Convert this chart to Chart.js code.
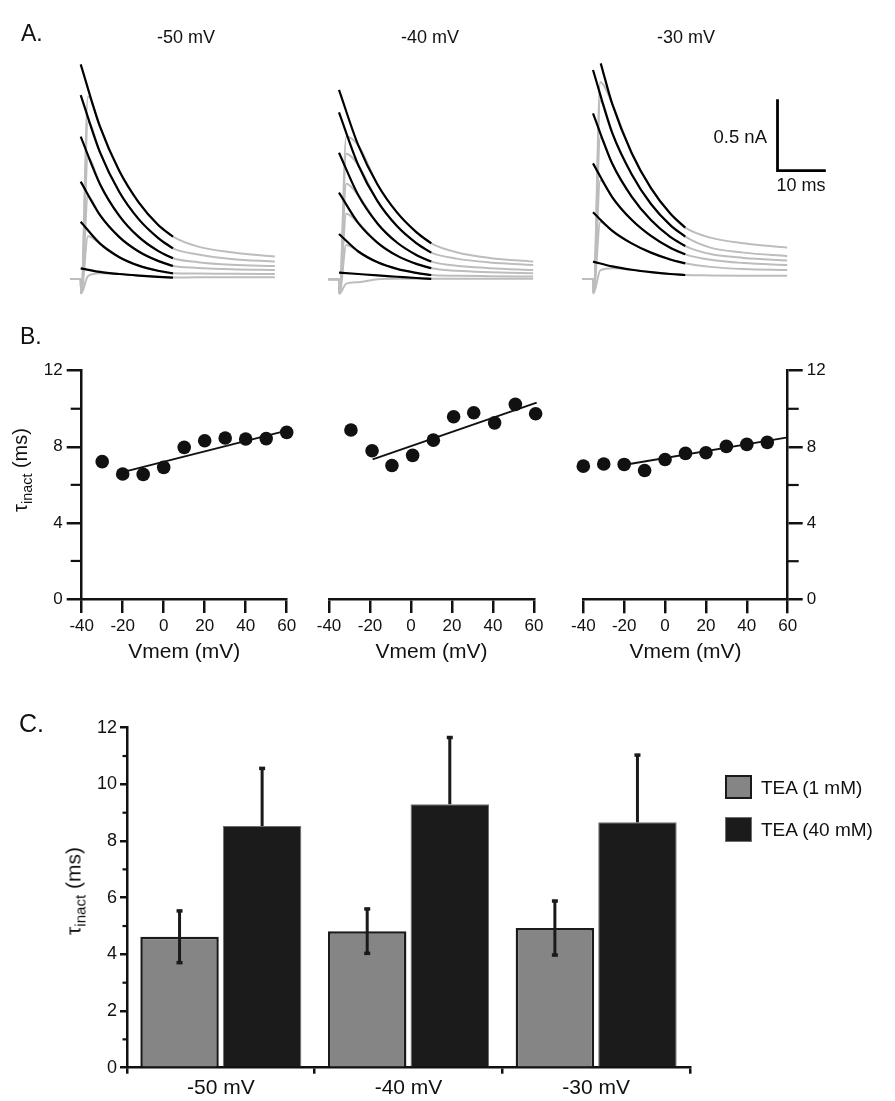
<!DOCTYPE html>
<html>
<head>
<meta charset="utf-8">
<title>TEA inactivation time constants</title>
<script src="https://cdn.jsdelivr.net/npm/chart.js@4.4.1/dist/chart.umd.min.js"></script>
<style>
  html, body { margin: 0; padding: 0; background: #fff; }
  #fig { position: relative; width: 895px; height: 1101px; overflow: hidden;
         font-family: 'Liberation Sans', Arial, Helvetica, sans-serif; color: #111; }
  #fig canvas { position: absolute; left: 0; top: 0; }
  .t { position: absolute; white-space: nowrap; line-height: 1; }
  .t sub { font-size: 72%; vertical-align: -0.32em; line-height: 0; }
  .key { position: absolute; box-sizing: border-box; }
</style>
</head>
<body>
<div id="fig">
  <canvas id="a50" width="895" height="1101"></canvas>
  <canvas id="a40" width="895" height="1101"></canvas>
  <canvas id="a30" width="895" height="1101"></canvas>
  <canvas id="b50" width="895" height="1101"></canvas>
  <canvas id="b40" width="895" height="1101"></canvas>
  <canvas id="b30" width="895" height="1101"></canvas>
  <canvas id="c" width="895" height="1101"></canvas>

  <div class="t" style="left:21px;top:33px;transform:translateY(-50%);font-size:23px">A.</div>
  <div class="t" style="left:186px;top:37px;transform:translate(-50%,-50%);font-size:18px">-50 mV</div>
  <div class="t" style="left:430px;top:37px;transform:translate(-50%,-50%);font-size:18px">-40 mV</div>
  <div class="t" style="left:686px;top:37px;transform:translate(-50%,-50%);font-size:18px">-30 mV</div>
  <div class="t" style="left:767px;top:137px;transform:translate(-100%,-50%);font-size:18.5px">0.5 nA</div>
  <div class="t" style="left:801px;top:185px;transform:translate(-50%,-50%);font-size:18px">10 ms</div>

  <div class="t" style="left:20px;top:336px;transform:translateY(-50%);font-size:23px">B.</div>
  <div class="t" style="left:20px;top:470px;transform:translate(-50%,-50%) rotate(-90deg);font-size:20px">&tau;<sub>inact</sub> (ms)</div>

  <div class="t" style="left:19px;top:723px;transform:translateY(-50%);font-size:25px">C.</div>
  <div class="t" style="left:73px;top:891px;transform:translate(-50%,-50%) rotate(-90deg);font-size:21px">&tau;<sub>inact</sub> (ms)</div>

  <div class="key" style="left:725px;top:775px;width:27px;height:24px;background:#858585;border:2px solid #1a1a1a"></div>
  <div class="t" style="left:761px;top:787px;transform:translateY(-50%);font-size:19px">TEA (1 mM)</div>
  <div class="key" style="left:725px;top:817px;width:27px;height:25px;background:#1b1b1b;border:1px solid #6e6e6e"></div>
  <div class="t" style="left:761px;top:829px;transform:translateY(-50%);font-size:19px">TEA (40 mM)</div>
</div>

<script>
// ---- A: currents (time in ms, current in nA) ----
const fitTimes = [0, 4, 8, 12, 16, 19.1];
const grayTimes = [-2.2, 0, 0.1, 1.5, 4, 8, 12, 16, 19.1, 24.3, 31.2, 40.2];

const fit50 = [
    [1.505, 1.068, 0.757, 0.538, 0.381, 0.297],
    [1.290, 0.888, 0.610, 0.420, 0.289, 0.215],
    [0.998, 0.665, 0.443, 0.295, 0.197, 0.145],
    [0.683, 0.448, 0.294, 0.193, 0.127, 0.091],
    [0.402, 0.248, 0.153, 0.094, 0.058, 0.040],
    [0.075, 0.050, 0.035, 0.024, 0.015, 0.010]
];
const gray50 = [
    [0, 0, -0.1, 1.28, 1.068, 0.757, 0.538, 0.381, 0.297, 0.227, 0.187, 0.157],
    [0, 0, -0.1, 1.10, 0.888, 0.610, 0.420, 0.289, 0.215, 0.172, 0.140, 0.122],
    [0, 0, -0.1, 0.85, 0.665, 0.443, 0.295, 0.197, 0.145, 0.118, 0.100, 0.091],
    [0, 0, -0.1, 0.58, 0.448, 0.294, 0.193, 0.127, 0.091, 0.078, 0.068, 0.063],
    [0, 0, -0.1, 0.30, 0.248, 0.153, 0.094, 0.058, 0.040, 0.038, 0.036, 0.035],
    [0, 0, -0.1, 0.02, 0.040, 0.035, 0.024, 0.015, 0.010, 0.012, 0.012, 0.012]
];

const fit40 = [
    [1.328, 0.939, 0.663, 0.469, 0.331, 0.252],
    [1.171, 0.800, 0.546, 0.373, 0.254, 0.187],
    [0.888, 0.589, 0.390, 0.258, 0.171, 0.124],
    [0.608, 0.394, 0.256, 0.166, 0.108, 0.077],
    [0.318, 0.195, 0.119, 0.073, 0.045, 0.030],
    [0.047, 0.037, 0.027, 0.018, 0.009, 0.003]
];
const gray40 = [
    [0, 0, -0.1, 1.00, 0.939, 0.663, 0.469, 0.331, 0.252, 0.190, 0.150, 0.124],
    [0, 0, -0.1, 0.88, 0.800, 0.546, 0.373, 0.254, 0.187, 0.145, 0.118, 0.100],
    [0, 0, -0.1, 0.67, 0.589, 0.390, 0.258, 0.171, 0.124, 0.095, 0.078, 0.065],
    [0, 0, -0.1, 0.46, 0.394, 0.256, 0.166, 0.108, 0.077, 0.060, 0.050, 0.042],
    [0, 0, -0.1, 0.24, 0.195, 0.119, 0.073, 0.045, 0.030, 0.025, 0.022, 0.019],
    [0, 0, -0.1, -0.03, -0.02, 0.000, 0.003, 0.003, 0.003, 0.003, 0.003, 0.003]
];

const fit30 = [
    [1.512, 1.226, 0.884, 0.637, 0.459, 0.360],
    [1.466, 1.023, 0.735, 0.526, 0.378, 0.297],
    [1.162, 0.808, 0.578, 0.413, 0.295, 0.231],
    [0.811, 0.573, 0.415, 0.302, 0.219, 0.173],
    [0.468, 0.338, 0.250, 0.185, 0.137, 0.110],
    [0.122, 0.088, 0.065, 0.048, 0.035, 0.028]
];
const fitStart30 = [1.6, 0, 0, 0, 0, 0];
const gray30 = [
    [0, 0, -0.1, 1.38, 1.226, 0.884, 0.637, 0.459, 0.360, 0.290, 0.250, 0.220],
    [0, 0, -0.1, 1.25, 1.023, 0.735, 0.526, 0.378, 0.297, 0.220, 0.185, 0.160],
    [0, 0, -0.1, 0.99, 0.808, 0.578, 0.413, 0.295, 0.231, 0.175, 0.148, 0.130],
    [0, 0, -0.1, 0.69, 0.573, 0.415, 0.302, 0.219, 0.173, 0.135, 0.112, 0.098],
    [0, 0, -0.1, 0.40, 0.338, 0.250, 0.185, 0.137, 0.110, 0.085, 0.070, 0.063],
    [0, 0, -0.1, 0.06, 0.075, 0.065, 0.048, 0.035, 0.028, 0.025, 0.023, 0.022]
];

// scale bar: 10 ms, 0.5 nA, anchored at (ms, nA) in the -30 mV frame
const scaleBarMs = 10;
const scaleBarNA = 0.5;
const scaleBarAt = [38.2, 0.76];

// ---- B: tau vs Vmem ----
const vmTicks = [-40, -20, 0, 20, 40, 60];
const tauTicks = [0, 4, 8, 12];
const tauMinor = [2, 6, 10];

const vm50 = [-30, -20, -10, 0, 10, 20, 30, 40, 50, 60];
const tau50 = [7.22, 6.57, 6.55, 6.92, 7.97, 8.32, 8.46, 8.41, 8.43, 8.76];
const fitVm50 = [-20, 60];
const fitTau50 = [6.67, 8.85];

const vm40 = [-29.3, -19, -9.3, 0.8, 10.9, 20.8, 30.6, 40.8, 50.9, 60.8];
const tau40 = [8.88, 7.79, 7.02, 7.55, 8.35, 9.58, 9.79, 9.26, 10.23, 9.74];
const fitVm40 = [-18.7, 61.3];
const fitTau40 = [7.34, 10.32];

const vm30 = [-40, -30, -20, -10, 0, 10, 20, 30, 40, 50];
const tau30 = [6.99, 7.10, 7.08, 6.76, 7.34, 7.66, 7.69, 8.03, 8.13, 8.24];
const fitVm30 = [-19.6, 60];
const fitTau30 = [7.06, 8.50];

// ---- C: mean tau per holding potential ----
const holding = ['-50 mV', '-40 mV', '-30 mV'];
const tea1 = [4.62, 4.82, 4.93];
const tea1Err = [0.94, 0.81, 0.98];
const tea40 = [8.53, 9.30, 8.66];
const tea40Err = [2.06, 2.38, 2.40];
const tauTicksC = [0, 2, 4, 6, 8, 10, 12];
const tauMinorC = [1, 3, 5, 7, 9, 11];

// ---- layout ----
const W = 895, H = 1101;
const INK = '#111';
const GRAY = '#bdbdbd';
const PX_MS = 4.83, PX_NA = 142.6;
const T_RANGE = [-3, 42];
const I_RANGE = [-0.2, 1.7];

Chart.defaults.font.family = "'Liberation Sans', Arial, Helvetica, sans-serif";
Chart.defaults.color = INK;

const baseOptions = {
    responsive: false,
    devicePixelRatio: 1,
    animation: false,
    events: [],
    plugins: { legend: { display: false }, tooltip: { enabled: false } }
};

const setTicks = (values) => (s) => { s.ticks = values.map(v => ({ value: v })); };

// short ticks between the labelled ones
const minorTicks = (axis, values, len) => ({
    id: 'minorTicks',
    afterDraw(chart) {
        const s = chart.scales[axis];
        const ctx = chart.ctx;
        const onLeft = s.position === 'left';
        const x0 = onLeft ? s.right : s.left;
        ctx.save();
        ctx.strokeStyle = INK;
        ctx.lineWidth = 2.2;
        values.forEach(v => {
            const y = s.getPixelForValue(v);
            ctx.beginPath();
            ctx.moveTo(x0, y);
            ctx.lineTo(onLeft ? x0 - len : x0 + len, y);
            ctx.stroke();
        });
        ctx.restore();
    }
});

const scaleBar = {
    id: 'scaleBar',
    afterDraw(chart) {
        const xs = chart.scales.x, ys = chart.scales.y;
        const x0 = xs.getPixelForValue(scaleBarAt[0]);
        const x1 = xs.getPixelForValue(scaleBarAt[0] + scaleBarMs);
        const y0 = ys.getPixelForValue(scaleBarAt[1]);
        const y1 = ys.getPixelForValue(scaleBarAt[1] + scaleBarNA);
        const ctx = chart.ctx;
        ctx.save();
        ctx.strokeStyle = '#000';
        ctx.lineWidth = 2.8;
        ctx.lineJoin = 'miter';
        ctx.beginPath();
        ctx.moveTo(x0, y1);
        ctx.lineTo(x0, y0);
        ctx.lineTo(x1, y0);
        ctx.stroke();
        ctx.restore();
    }
};

// mean ± error; the lower half is skipped where the bar would hide it anyway
const errorBars = {
    id: 'errorBars',
    afterDatasetsDraw(chart) {
        const ctx = chart.ctx, y = chart.scales.y;
        ctx.save();
        ctx.strokeStyle = '#1a1a1a';
        ctx.fillStyle = '#1a1a1a';
        ctx.lineWidth = 3;
        chart.data.datasets.forEach((ds, i) => {
            chart.getDatasetMeta(i).data.forEach((bar, j) => {
                const hi = y.getPixelForValue(ds.data[j] + ds.errors[j]);
                const lo = ds.errorDown ? y.getPixelForValue(ds.data[j] - ds.errors[j]) : bar.y;
                ctx.beginPath();
                ctx.moveTo(bar.x, hi);
                ctx.lineTo(bar.x, lo);
                ctx.stroke();
                ctx.fillRect(bar.x - 3, hi - 1, 6, 3.5);
                if (ds.errorDown) ctx.fillRect(bar.x - 3, lo - 2.5, 6, 3.5);
            });
        });
        ctx.restore();
    }
};

// A: one frame of traces
const traceFrames = {
    a50: { t0: 80.7, base: 279 },
    a40: { t0: 339, base: 279.3 },
    a30: { t0: 593, base: 279 }
};

function traceChart(id, fits, grays, starts, extra) {
    const f = traceFrames[id];
    const left = f.t0 + T_RANGE[0] * PX_MS;
    const right = f.t0 + T_RANGE[1] * PX_MS;
    const top = f.base - I_RANGE[1] * PX_NA;
    const bottom = f.base - I_RANGE[0] * PX_NA;

    const datasets = [];
    fits.forEach((vals, k) => {
        datasets.push({
            data: vals.map((v, i) => ({ x: (i === 0 && starts) ? starts[k] : fitTimes[i], y: v })),
            showLine: true, pointRadius: 0, borderColor: '#000', borderWidth: 2.2,
            cubicInterpolationMode: 'monotone'
        });
    });
    grays.forEach(vals => {
        datasets.push({
            data: vals.map((v, i) => ({ x: grayTimes[i], y: v })),
            showLine: true, pointRadius: 0, borderColor: GRAY, borderWidth: 2,
            cubicInterpolationMode: 'monotone'
        });
    });

    new Chart(document.getElementById(id), {
        type: 'scatter',
        data: { datasets },
        options: Object.assign({}, baseOptions, {
            layout: { padding: { left, right: W - right, top, bottom: H - bottom } },
            scales: {
                x: { type: 'linear', display: false, min: T_RANGE[0], max: T_RANGE[1] },
                y: { type: 'linear', display: false, min: I_RANGE[0], max: I_RANGE[1] }
            }
        }),
        plugins: extra || []
    });
}

traceChart('a50', fit50, gray50, null);
traceChart('a40', fit40, gray40, null);
traceChart('a30', fit30, gray30, fitStart30, [scaleBar]);

// B: tau vs Vmem frames
const axisGrid = (len) => ({
    drawOnChartArea: false, drawTicks: true, tickLength: len,
    tickWidth: 2.5, tickColor: INK, lineWidth: 2.5, color: INK
});
const axisBorder = { display: true, width: 2.5, color: INK };
const X_AXIS_H = 70;

function tauChart(id, area, yPos, vm, tau, fitVm, fitTau) {
    const yW = yPos === 'left' ? 70 : (yPos === 'right' ? 40 : 0);
    const padding = {
        left: area.l - (yPos === 'left' ? yW : 0),
        right: W - area.r - (yPos === 'right' ? yW : 0),
        top: area.t,
        bottom: H - area.b - X_AXIS_H
    };
    new Chart(document.getElementById(id), {
        type: 'scatter',
        data: {
            datasets: [
                {
                    data: vm.map((v, i) => ({ x: v, y: tau[i] })),
                    pointRadius: 6.8, pointBackgroundColor: INK, pointBorderWidth: 0, clip: false
                },
                {
                    data: fitVm.map((v, i) => ({ x: v, y: fitTau[i] })),
                    showLine: true, pointRadius: 0, borderColor: INK, borderWidth: 2, clip: false
                }
            ]
        },
        options: Object.assign({}, baseOptions, {
            layout: { padding },
            scales: {
                x: {
                    type: 'linear', min: -40, max: 60,
                    afterBuildTicks: setTicks(vmTicks),
                    afterFit: s => { s.height = X_AXIS_H; s.paddingLeft = 0; s.paddingRight = 0; },
                    grid: axisGrid(14), border: axisBorder,
                    ticks: { font: { size: 17 }, color: INK, padding: 3, maxRotation: 0, autoSkip: false },
                    title: { display: true, text: 'Vmem (mV)', font: { size: 21 }, color: INK, padding: { top: 0, bottom: 4 } }
                },
                y: {
                    type: 'linear', min: 0, max: 12,
                    display: yPos !== null, position: yPos || 'left',
                    afterBuildTicks: setTicks(tauTicks),
                    afterFit: s => { s.width = yW; s.paddingTop = 0; s.paddingBottom = 0; },
                    grid: axisGrid(15), border: axisBorder,
                    ticks: { font: { size: 17 }, color: INK, padding: 4, autoSkip: false }
                }
            }
        }),
        plugins: yPos ? [minorTicks('y', tauMinor, 11)] : []
    });
}

tauChart('b50', { l: 81.7, r: 286.7, t: 370.7, b: 599 }, 'left', vm50, tau50, fitVm50, fitTau50);
tauChart('b40', { l: 329, r: 534, t: 370.7, b: 599 }, null, vm40, tau40, fitVm40, fitTau40);
tauChart('b30', { l: 583.3, r: 787.7, t: 370.7, b: 599.3 }, 'right', vm30, tau30, fitVm30, fitTau30);

// C: bar chart
const areaC = { l: 127, r: 690, t: 727.7, b: 1067.7 };
const C_Y_W = 50, C_X_H = 30;

new Chart(document.getElementById('c'), {
    type: 'bar',
    data: {
        labels: holding,
        datasets: [
            {
                label: 'TEA (1 mM)', data: tea1, errors: tea1Err, errorDown: true,
                backgroundColor: '#858585', borderColor: '#1a1a1a', borderWidth: 2.5,
                categoryPercentage: 0.88, barPercentage: 0.95
            },
            {
                label: 'TEA (40 mM)', data: tea40, errors: tea40Err, errorDown: false,
                backgroundColor: '#1b1b1b', borderColor: '#6e6e6e', borderWidth: 1,
                categoryPercentage: 0.88, barPercentage: 0.95
            }
        ]
    },
    options: Object.assign({}, baseOptions, {
        layout: {
            padding: {
                left: areaC.l - C_Y_W, right: W - areaC.r,
                top: areaC.t, bottom: H - areaC.b - C_X_H
            }
        },
        scales: {
            x: {
                afterFit: s => { s.height = C_X_H; s.paddingLeft = 0; s.paddingRight = 0; },
                grid: Object.assign(axisGrid(6), { offset: true }), border: axisBorder,
                ticks: { font: { size: 21 }, color: INK, padding: 2, maxRotation: 0 }
            },
            y: {
                min: 0, max: 12,
                afterBuildTicks: setTicks(tauTicksC),
                afterFit: s => { s.width = C_Y_W; s.paddingTop = 0; s.paddingBottom = 0; },
                grid: axisGrid(7), border: axisBorder,
                ticks: { font: { size: 18 }, color: INK, padding: 3, autoSkip: false }
            }
        }
    }),
    plugins: [errorBars, minorTicks('y', tauMinorC, 4.5)]
});
</script>
</body>
</html>
